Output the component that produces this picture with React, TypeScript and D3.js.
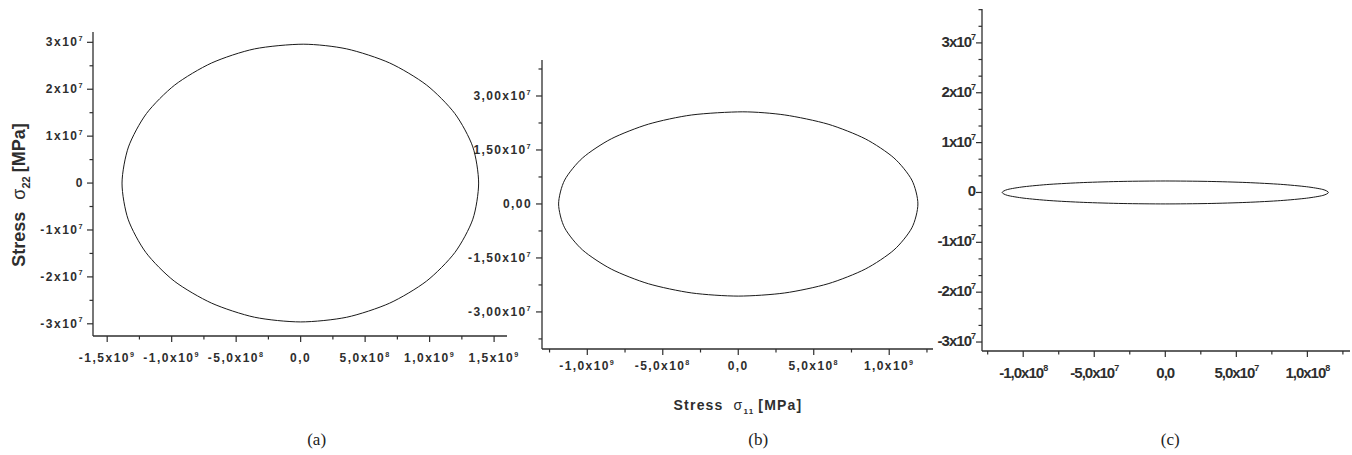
import * as d3 from "d3";

// (a) sigma11 / sigma22, MPa
const s11A = [1.38e9, 1.335e9, 1.196e9, 0.976e9, 0.69e9, 0.357e9, 0.02e9, -0.357e9, -0.69e9, -0.976e9, -1.196e9, -1.335e9, -1.385e9, -1.338e9, -1.2e9, -0.98e9, -0.69e9, -0.357e9, 0.0, 0.357e9, 0.69e9, 0.976e9, 1.196e9, 1.335e9];
const s22A = [0, 0.77e7, 1.48e7, 2.09e7, 2.56e7, 2.86e7, 2.96e7, 2.86e7, 2.56e7, 2.09e7, 1.48e7, 0.77e7, 0, -0.77e7, -1.48e7, -2.09e7, -2.56e7, -2.86e7, -2.96e7, -2.86e7, -2.56e7, -2.09e7, -1.48e7, -0.77e7];

// (b)
const s11B = [1.19e9, 1.15e9, 1.031e9, 0.841e9, 0.595e9, 0.308e9, 0.03e9, -0.308e9, -0.595e9, -0.841e9, -1.031e9, -1.15e9, -1.19e9, -1.15e9, -1.031e9, -0.841e9, -0.595e9, -0.308e9, 0.0, 0.308e9, 0.595e9, 0.841e9, 1.031e9, 1.15e9];
const s22B = [0, 0.663e7, 1.28e7, 1.81e7, 2.217e7, 2.473e7, 2.56e7, 2.473e7, 2.217e7, 1.81e7, 1.28e7, 0.663e7, 0, -0.663e7, -1.28e7, -1.81e7, -2.217e7, -2.473e7, -2.56e7, -2.473e7, -2.217e7, -1.81e7, -1.28e7, -0.663e7];

// (c)
const s11C = [1.148e8, 1.109e8, 0.994e8, 0.812e8, 0.574e8, 0.297e8, 0.0, -0.297e8, -0.574e8, -0.812e8, -0.994e8, -1.109e8, -1.148e8, -1.109e8, -0.994e8, -0.812e8, -0.574e8, -0.297e8, 0.0, 0.297e8, 0.574e8, 0.812e8, 0.994e8, 1.109e8];
const s22C = [0, 0.06e7, 0.115e7, 0.163e7, 0.199e7, 0.222e7, 0.23e7, 0.222e7, 0.199e7, 0.163e7, 0.115e7, 0.06e7, 0, -0.06e7, -0.115e7, -0.163e7, -0.199e7, -0.222e7, -0.23e7, -0.222e7, -0.199e7, -0.163e7, -0.115e7, -0.06e7];

const xTicksA = [-1.5e9, -1.0e9, -0.5e9, 0, 0.5e9, 1.0e9, 1.5e9];
const xLabelsA = ["-1,5x10^9", "-1,0x10^9", "-5,0x10^8", "0,0", "5,0x10^8", "1,0x10^9", "1,5x10^9"];
const xMinorA = [-1.25e9, -0.75e9, -0.25e9, 0.25e9, 0.75e9, 1.25e9];
const yTicksA = [3e7, 2e7, 1e7, 0, -1e7, -2e7, -3e7];
const yLabelsA = ["3x10^7", "2x10^7", "1x10^7", "0", "-1x10^7", "-2x10^7", "-3x10^7"];
const yMinorA = [2.5e7, 1.5e7, 0.5e7, -0.5e7, -1.5e7, -2.5e7];

const xTicksB = [-1.0e9, -0.5e9, 0, 0.5e9, 1.0e9];
const xLabelsB = ["-1,0x10^9", "-5,0x10^8", "0,0", "5,0x10^8", "1,0x10^9"];
const xMinorB = [-1.25e9, -0.75e9, -0.25e9, 0.25e9, 0.75e9, 1.25e9];
const yTicksB = [3e7, 1.5e7, 0, -1.5e7, -3e7];
const yLabelsB = ["3,00x10^7", "1,50x10^7", "0,00", "-1,50x10^7", "-3,00x10^7"];
const yMinorB = [3.75e7, 2.25e7, 0.75e7, -0.75e7, -2.25e7, -3.75e7];

const xTicksC = [-1.0e8, -0.5e8, 0, 0.5e8, 1.0e8];
const xLabelsC = ["-1,0x10^8", "-5,0x10^7", "0,0", "5,0x10^7", "1,0x10^8"];
const xMinorC = [-1.25e8, -0.75e8, -0.25e8, 0.25e8, 0.75e8, 1.25e8];
const yTicksC = [3e7, 2e7, 1e7, 0, -1e7, -2e7, -3e7];
const yLabelsC = ["3x10^7", "2x10^7", "1x10^7", "0", "-1x10^7", "-2x10^7", "-3x10^7"];
const yMinorC = [3.667e7, 3.333e7, 2.667e7, 2.333e7, 1.667e7, 1.333e7, 0.667e7, 0.333e7, -0.333e7, -0.667e7, -1.333e7, -1.667e7, -2.333e7, -2.667e7];

const INK = "#2e2e2e";

function Label({ s, x, y, anchor, size, spacing }) {
  const [base, sup] = s.split("^");
  return (
    <text x={x} y={y} textAnchor={anchor} fontFamily="'Liberation Sans', Arial, sans-serif" fontWeight="bold"
      fontSize={size} letterSpacing={spacing} fill={INK}>
      {base}
      {sup && <tspan fontSize={size * 0.6} dy={-size * 0.45}>{sup}</tspan>}
    </text>
  );
}

function Panel({ p }) {
  const x = d3.scaleLinear().domain(p.xDomain).range(p.xRange);
  const y = d3.scaleLinear().domain(p.yDomain).range(p.yRange);
  const pts = p.s11.map((v, i) => [v, p.s22[i]]);
  const line = d3.line().x(d => x(d[0])).y(d => y(d[1])).curve(d3.curveCardinalClosed.tension(0.2));
  const x0 = p.xRange[0], y0 = p.yRange[0];
  return (
    <g>
      <path d={line(pts)} fill="none" stroke="#1a1a1a" strokeWidth={1} />
      <line x1={x0} x2={x0} y1={p.yRange[1]} y2={y0} stroke={INK} strokeWidth={1.3} />
      <line x1={x0} x2={p.xRange[1]} y1={y0} y2={y0} stroke={INK} strokeWidth={1.3} />
      {p.yTicks.map((t, i) => (
        <g key={"yt" + i}>
          <line x1={x0 - 6} x2={x0} y1={y(t)} y2={y(t)} stroke={INK} strokeWidth={1.2} />
          <Label s={p.yLabels[i]} x={x0 - p.yGap} y={y(t) + 4} anchor="end" size={p.font} spacing={p.spacing} />
        </g>
      ))}
      {p.yMinor.map((t, i) => (
        <line key={"ym" + i} x1={x0 - 3.5} x2={x0} y1={y(t)} y2={y(t)} stroke={INK} strokeWidth={1.2} />
      ))}
      {p.xTicks.map((t, i) => (
        <g key={"xt" + i}>
          <line x1={x(t)} x2={x(t)} y1={y0} y2={y0 + 6} stroke={INK} strokeWidth={1.2} />
          <Label s={p.xLabels[i]} x={x(t)} y={y0 + p.xGap} anchor="middle" size={p.font} spacing={p.spacing} />
        </g>
      ))}
      {p.xMinor.map((t, i) => (
        <line key={"xm" + i} x1={x(t)} x2={x(t)} y1={y0} y2={y0 + 3.5} stroke={INK} strokeWidth={1.2} />
      ))}
      <text x={x(0) + p.capDx} y={445} textAnchor="middle" fontFamily="'Liberation Serif', serif" fontSize={17} fill="#222">
        {p.caption}
      </text>
    </g>
  );
}

const panels = [
  { s11: s11A, s22: s22A, xDomain: [-1.61e9, 1.6e9], xRange: [93, 507], yDomain: [-3.26e7, 3.22e7], yRange: [336, 32],
    xTicks: xTicksA, xLabels: xLabelsA, xMinor: xMinorA, yTicks: yTicksA, yLabels: yLabelsA, yMinor: yMinorA,
    font: 12, spacing: 1.5, xGap: 26, yGap: 9, caption: "(a)", capDx: 16 },
  { s11: s11B, s22: s22B, xDomain: [-1.3e9, 1.29e9], xRange: [542, 933], yDomain: [-4.03e7, 4.0e7], yRange: [349, 60],
    xTicks: xTicksB, xLabels: xLabelsB, xMinor: xMinorB, yTicks: yTicksB, yLabels: yLabelsB, yMinor: yMinorB,
    font: 12, spacing: 1.4, xGap: 21, yGap: 10, caption: "(b)", capDx: 20 },
  { s11: s11C, s22: s22C, xDomain: [-1.29e8, 1.3e8], xRange: [982, 1350], yDomain: [-3.18e7, 3.68e7], yRange: [351, 9],
    xTicks: xTicksC, xLabels: xLabelsC, xMinor: xMinorC, yTicks: yTicksC, yLabels: yLabelsC, yMinor: yMinorC,
    font: 15, spacing: -1, xGap: 27, yGap: 7, caption: "(c)", capDx: 5 },
];

export default function App() {
  return (
    <svg width={1352} height={455} style={{ position: "absolute", left: 0, top: 0, background: "#fff" }}>
      {panels.map((p, i) => <Panel key={i} p={p} />)}
      <text transform="translate(25,195) rotate(-90)" textAnchor="middle" fontFamily="'Liberation Sans', Arial, sans-serif"
        fontWeight="bold" fontSize={18} fill={INK}>
        Stress
        <tspan dx={12} fontWeight="normal">σ</tspan>
        <tspan fontSize={11} dy={5}>22</tspan>
        <tspan dy={-5} dx={4}>[MPa]</tspan>
      </text>
      <text x={738} y={410} textAnchor="middle" fontFamily="'Liberation Sans', Arial, sans-serif" fontWeight="bold"
        fontSize={14} letterSpacing={1.2} fill={INK}>
        Stress
        <tspan dx={10} fontWeight="normal">σ</tspan>
        <tspan fontSize={8} dy={4}>11</tspan>
        <tspan dy={-4} dx={4}>[MPa]</tspan>
      </text>
    </svg>
  );
}
